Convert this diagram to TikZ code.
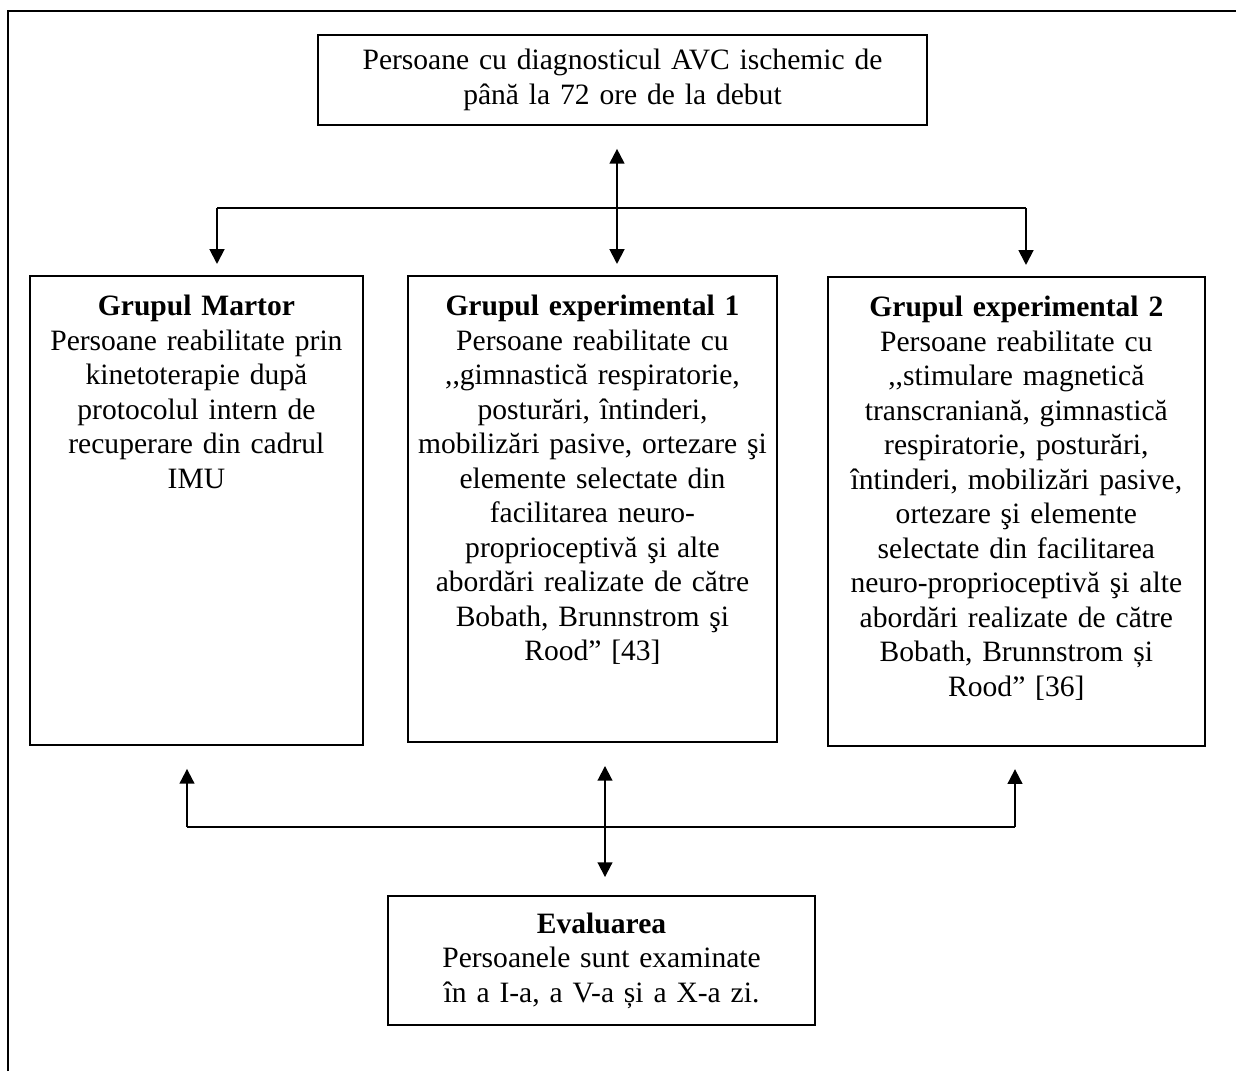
\documentclass[tikz,border=0pt]{standalone}
\usepackage{fontspec}
\setmainfont{Liberation Serif}
\usetikzlibrary{arrows.meta}

\begin{document}
\begin{tikzpicture}[>={Triangle[length=6pt,width=6pt]}, x=0.406pt, y=-0.406pt, line width=0.8pt,
  box/.style={draw, align=center, font=\fontsize{12}{14}\selectfont},
  groupbox/.style={box, inner xsep=2pt, inner ysep=0pt, text height=16.2pt, text depth=174.2pt}]
\useasboundingbox (0,0) rectangle (1236,1071);
\draw[line width=1.2pt] (8,1071) -- (8,11) -- (1236,11);

\node[name=start, box, minimum width=247.3pt, minimum height=36.5pt, text width=235pt] at (622.5,80) {Persoane cu diagnosticul AVC ischemic de\\până la 72 ore de la debut};
\node[name=group_exp_1, groupbox, node distance=174.2pt, below of=start, xshift=-12.2pt, text width=145.8pt, text depth=173pt] {\textbf{Grupul experimental 1}\\Persoane reabilitate cu\\,{},gimnastică respiratorie,\\posturări, întinderi,\\mobilizări pasive, ortezare şi\\elemente selectate din\\facilitarea neuro-\\proprioceptivă şi alte\\abordări realizate de către\\Bobath, Brunnstrom şi\\Rood” [43]};
\node[name=group_martor, groupbox, node distance=160.8pt, left of=group_exp_1, yshift=-0.6pt, text width=131.2pt] {\textbf{Grupul Martor}\\Persoane reabilitate prin\\kinetoterapie după\\protocolul intern de\\recuperare din cadrul\\IMU};
\node[name=group_exp_2, groupbox, node distance=172.1pt, right of=group_exp_1, yshift=-1pt, text width=149.1pt] {\textbf{Grupul experimental 2}\\Persoane reabilitate cu\\,{},stimulare magnetică\\transcraniană, gimnastică\\respiratorie, posturări,\\întinderi, mobilizări pasive,\\ortezare şi elemente\\selectate din facilitarea\\neuro-proprioceptivă şi alte\\abordări realizate de către\\Bobath, Brunnstrom și\\Rood” [36]};
\node[name=eval, box, node distance=183.3pt, below of=group_exp_1, xshift=3.7pt, minimum width=173.4pt, minimum height=52.4pt, text width=165pt] {\textbf{Evaluarea}\\Persoanele sunt examinate\\în a I-a, a V-a și a X-a zi.};

\coordinate (hub_top) at (617,208);
\coordinate (split_left) at (217,208);
\coordinate (split_right) at (1026,208);
\coordinate (hub_bot) at (605,827);
\coordinate (join_left) at (187,827);
\coordinate (join_right) at (1015,827);

\draw(split_left) -- (split_right);
\draw(start.south -| hub_top) edge[<->, shorten <=9.3pt, shorten >=4.5pt](group_exp_1.north -| hub_top);
\draw(split_left) edge[->, shorten >=4.5pt](split_left |- group_martor.north);
\draw(split_right) edge[->, shorten >=4.5pt](split_right |- group_exp_2.north);

\draw(join_left) -- (join_right);
\draw(join_left) edge[->, shorten >=9.3pt](join_left |- group_martor.south);
\draw(join_right) edge[->, shorten >=9pt](join_right |- group_exp_2.south);
\draw(group_exp_1.south -| hub_bot) edge[<->, shorten <=9.3pt, shorten >=7.3pt](eval.north -| hub_bot);
\end{tikzpicture}
\end{document}
